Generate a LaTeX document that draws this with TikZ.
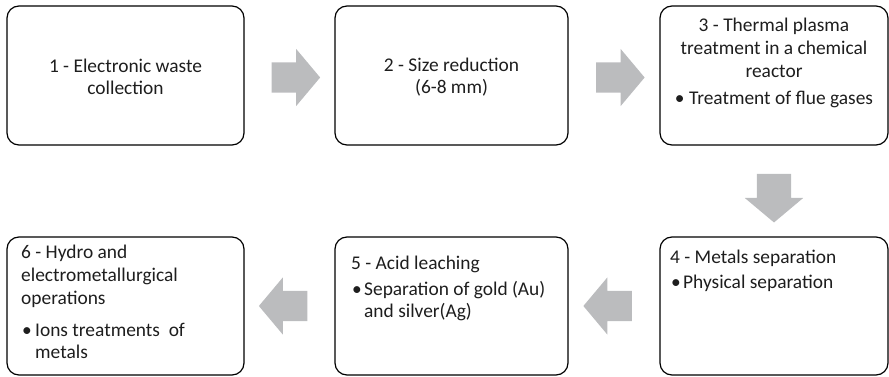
\documentclass[tikz,border=0pt]{standalone}
\usepackage{fontspec}
\setmainfont{Carlito}
\usetikzlibrary{shapes.arrows,calc}

\definecolor{arrowgray}{RGB}{187,188,190}
\definecolor{inkdark}{RGB}{30,30,30}

\tikzset{
  stepbox/.style={draw=black, line width=1.2pt, rounded corners=12pt,
    inner sep=0pt, fill=white},
  % shaft width comes from the (empty) text box: text height + text depth
  blockarrow/.style={single arrow, fill=arrowgray, draw=none, inner sep=0pt,
    text height=15pt, text depth=15pt,
    minimum height=48.5pt, minimum width=57pt,
    single arrow head extend=13.5pt, single arrow tip angle=100},
  ln/.style={inner sep=0pt, text=inkdark,
    font=\fontsize{19.4pt}{23pt}\selectfont},
  lnc/.style={ln, anchor=base},
  lnl/.style={ln, anchor=base west},
}

\begin{document}
\begin{tikzpicture}[x=1pt, y=-1pt]
\useasboundingbox (0,0) rectangle (889,377);

% process steps
\node[stepbox, minimum width=237pt, minimum height=139pt] (b1) at (125.5,75.5) {};
\node[stepbox, minimum width=233pt, minimum height=139pt] (b2) at (451.5,75.5) {};
\node[stepbox, minimum width=228pt, minimum height=139pt] (b3) at (774,75.5) {};
\node[stepbox, minimum width=228pt, minimum height=138pt] (b4) at (774,306) {};
\node[stepbox, minimum width=233pt, minimum height=138pt] (b5) at (451.5,306) {};
\node[stepbox, minimum width=237pt, minimum height=138pt] (b6) at (125.5,306) {};

% flow arrows between the steps
\node[blockarrow, yshift=-2pt] (a12) at ($(b1.east)!0.5!(b2.west)$) {};
\node[blockarrow, yshift=-2pt] (a23) at ($(b2.east)!0.5!(b3.west)$) {};
\node[blockarrow, rotate=-90, text height=17pt, text depth=17pt,
      single arrow head extend=12pt, minimum width=58pt]
  (a34) at ($(b3.south)!0.5!(b4.north)$) {};
\node[blockarrow, rotate=180] (a45) at ($(b4.west)!0.5!(b5.east)$) {};
\node[blockarrow, rotate=180] (a56) at ($(b5.west)!0.5!(b6.east)$) {};

% step 1
\node[lnc] (t1a) at (125.5,73) {1 - Electronic waste};
\node[lnc] (t1b) at (125.5,95) {collection};

% step 2
\node[lnc] (t2a) at (451.5,72) {2 - Size reduction};
\node[lnc] (t2b) at (451.5,94) {(6-8 mm)};

% step 3
\node[lnc] (t3a) at (774,32) {3 - Thermal plasma};
\node[lnc] (t3b) at (774,55) {treatment in a chemical};
\node[lnc] (t3c) at (774,78) {reactor};
\node[lnc] (t3d) at (774,105) {• Treatment of flue gases};

% step 4
\node[lnl] (t4a) at (670,263) {4 - Metals separation};
\node[lnl] (t4b) at (671,288) {•};
\node[lnl] (t4c) at (683,288) {Physical separation};

% step 5
\node[lnl] (t5a) at (351,269) {5 - Acid leaching};
\node[lnl] (t5b) at (352,295) {•};
\node[lnl] (t5c) at (364,295) {Separation of gold (Au)};
\node[lnl] (t5d) at (364,317) {and silver(Ag)};

% step 6
\node[lnl] (t6a) at (21,258) {6 - Hydro and};
\node[lnl] (t6b) at (21,281) {electrometallurgical};
\node[lnl] (t6c) at (21,304) {operations};
\node[lnl] (t6d) at (22,336) {•};
\node[lnl] (t6e) at (35,336) {Ions treatments~ of};
\node[lnl] (t6f) at (35,358) {metals};
\end{tikzpicture}
\end{document}
